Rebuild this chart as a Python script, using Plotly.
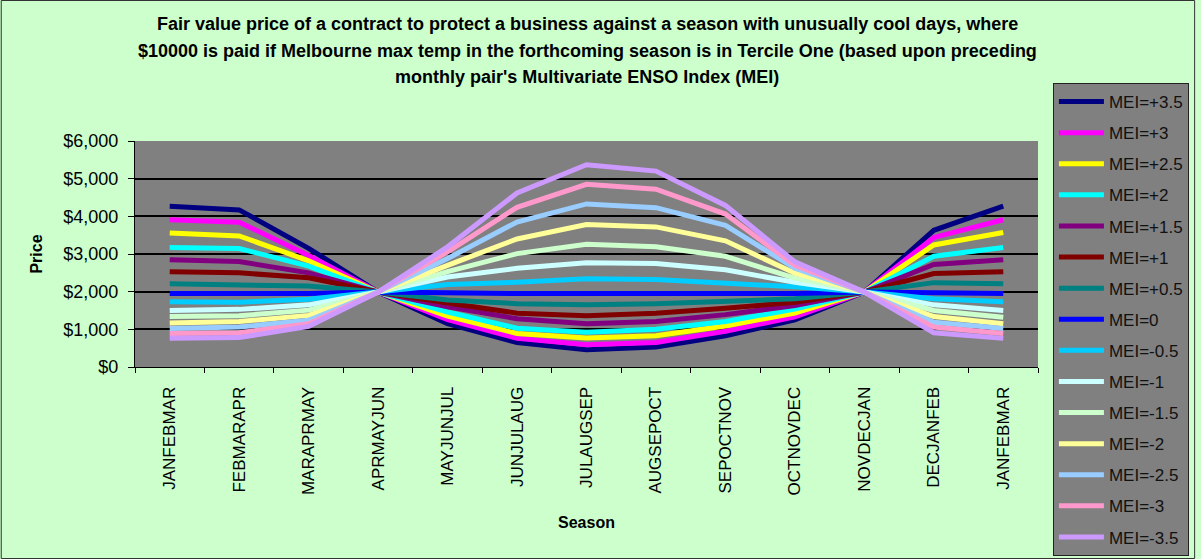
import plotly.graph_objects as go

# Three-month seasons along the x axis (the cycle closes on JANFEBMAR again)
seasons = ["JANFEBMAR", "FEBMARAPR", "MARAPRMAY", "APRMAYJUN", "MAYJUNJUL",
           "JUNJULAUG", "JULAUGSEP", "AUGSEPOCT", "SEPOCTNOV", "OCTNOVDEC",
           "NOVDECJAN", "DECJANFEB", "JANFEBMAR"]

# Fair value price ($) for each MEI value, one list per series
mei_p35 = [4270, 4170, 3150, 1990, 1150, 650, 460, 530, 830, 1250, 1990, 3630, 4270]
mei_p30 = [3910, 3845, 2960, 1990, 1260, 760, 590, 650, 950, 1330, 1990, 3440, 3910]
mei_p25 = [3560, 3480, 2820, 1990, 1350, 890, 770, 830, 1090, 1430, 1990, 3240, 3570]
mei_p20 = [3170, 3145, 2680, 1990, 1460, 1030, 920, 1000, 1210, 1540, 1990, 2940, 3170]
mei_p15 = [2850, 2800, 2500, 1990, 1600, 1280, 1150, 1210, 1390, 1630, 1990, 2720, 2850]
mei_p10 = [2526, 2500, 2370, 1990, 1700, 1430, 1360, 1430, 1560, 1720, 1990, 2480, 2530]
mei_p05 = [2210, 2190, 2150, 1990, 1780, 1680, 1650, 1680, 1740, 1810, 1990, 2240, 2210]
mei_000 = [1950, 1950, 1950, 1990, 1955, 1950, 1950, 1950, 1950, 1950, 1990, 1960, 1950]
mei_m05 = [1730, 1720, 1800, 1990, 2190, 2250, 2340, 2320, 2240, 2130, 1990, 1810, 1730]
mei_m10 = [1500, 1530, 1650, 1990, 2390, 2620, 2770, 2750, 2580, 2250, 1990, 1650, 1500]
mei_m15 = [1340, 1360, 1510, 1990, 2530, 3010, 3260, 3190, 2940, 2360, 1990, 1500, 1320]
mei_m20 = [1170, 1210, 1370, 1990, 2700, 3400, 3780, 3720, 3350, 2490, 1990, 1340, 1150]
mei_m25 = [1020, 1060, 1240, 1990, 2880, 3850, 4330, 4230, 3760, 2620, 1990, 1190, 1020]
mei_m30 = [890, 910, 1150, 1990, 3060, 4240, 4850, 4720, 4060, 2700, 1990, 1060, 890]
mei_m35 = [760, 780, 1080, 1990, 3190, 4620, 5370, 5200, 4290, 2790, 1990, 910, 760]

series_names = ["MEI=+3.5", "MEI=+3", "MEI=+2.5", "MEI=+2", "MEI=+1.5", "MEI=+1",
                "MEI=+0.5", "MEI=0", "MEI=-0.5", "MEI=-1", "MEI=-1.5", "MEI=-2",
                "MEI=-2.5", "MEI=-3", "MEI=-3.5"]
series_values = [mei_p35, mei_p30, mei_p25, mei_p20, mei_p15, mei_p10, mei_p05,
                 mei_000, mei_m05, mei_m10, mei_m15, mei_m20, mei_m25, mei_m30, mei_m35]
series_colors = ["#000080", "#FF00FF", "#FFFF00", "#00FFFF", "#800080", "#800000",
                 "#008080", "#0000FF", "#00CCFF", "#CCFFFF", "#CCFFCC", "#FFFF99",
                 "#99CCFF", "#FF99CC", "#CC99FF"]

x_pos = list(range(len(seasons)))

FONT = "Liberation Sans, Arial, sans-serif"
BG = "#CCFFCC"
PLOT_BG = "#808080"

fig = go.Figure()
for name, vals, col in zip(series_names, series_values, series_colors):
    fig.add_trace(go.Scatter(
        x=x_pos, y=vals, mode="lines", name=name, legendgroup=name,
        line=dict(color=col, width=5),
    ))

# geometry of the plotting area (pixels)
W, H = 1201, 559
L, R, T, B = 135, 1043, 141, 367
pw, ph = R - L, B - T

def px_x(x):
    return (x - L) / pw

def px_y(y):
    return (B - y) / ph

title_lines = [
    "Fair value price of a contract to protect a business against a season with unusually cool days, where",
    "$10000 is paid if Melbourne max temp in the forthcoming season is in Tercile One (based upon preceding",
    "monthly pair's Multivariate ENSO Index (MEI)",
]
title_y = [24, 51, 77]
annotations = []
for txt, yy in zip(title_lines, title_y):
    annotations.append(dict(
        text="<b>" + txt + "</b>", xref="paper", yref="paper",
        x=px_x(590), y=px_y(yy), xanchor="center", yanchor="middle",
        showarrow=False, font=dict(family=FONT, size=18, color="black"),
    ))

fig.update_layout(
    width=W, height=H,
    margin=dict(l=L, r=W - R, t=T, b=H - B, pad=0),
    paper_bgcolor=BG, plot_bgcolor=PLOT_BG,
    font=dict(family=FONT, color="black"),
    annotations=annotations,
    showlegend=True,
    legend=dict(
        x=px_x(1058), y=px_y(83), xanchor="left", yanchor="top",
        bgcolor=PLOT_BG, bordercolor="#222222", borderwidth=1,
        font=dict(family=FONT, size=17, color="#111111"),
        tracegroupgap=6, itemwidth=45, maxheight=520,
    ),
    xaxis=dict(
        range=[-0.5, len(seasons) - 0.5],
        tickmode="array", tickvals=x_pos, ticktext=seasons,
        tickangle=-90, ticks="", ticklabelstandoff=12,
        tickfont=dict(family=FONT, size=17, color="black"),
        showgrid=False, zeroline=False,
        showline=True, linecolor="black", linewidth=1,
        minor=dict(tickmode="array",
                   tickvals=[i - 0.5 for i in range(len(seasons) + 1)],
                   ticks="outside", ticklen=5, tickcolor="black", showgrid=False),
        title=dict(text="<b>Season</b>", font=dict(family=FONT, size=16), standoff=22),
    ),
    yaxis=dict(
        range=[0, 6000], dtick=1000, tickformat="$,.0f",
        ticks="outside", ticklen=6, tickcolor="black",
        tickfont=dict(family=FONT, size=18, color="black"),
        ticklabelstandoff=6,
        showgrid=True, gridcolor="black", gridwidth=1.5,
        zeroline=False, showline=True, linecolor="black", linewidth=1,
        title=dict(text="<b>Price</b>", font=dict(family=FONT, size=16), standoff=16),
    ),
    shapes=[dict(
        type="rect", xref="paper", yref="paper",
        x0=px_x(0.5), x1=px_x(W - 0.5), y0=px_y(H - 0.5), y1=px_y(0.5),
        line=dict(color="#333333", width=1), fillcolor="rgba(0,0,0,0)", layer="below",
    )],
)

fig.write_html("out.html")
